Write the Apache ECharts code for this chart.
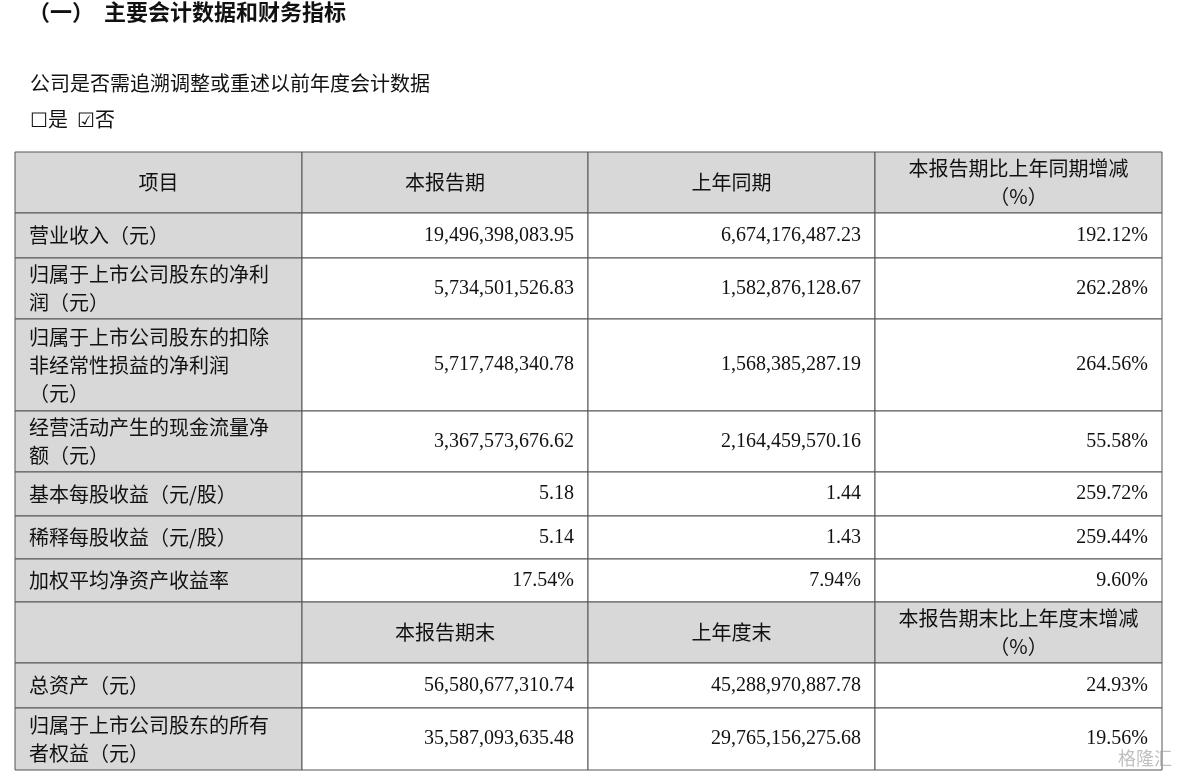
<!DOCTYPE html>
<html><head><meta charset="utf-8">
<script src="https://cdn.jsdelivr.net/npm/echarts@6/dist/echarts.min.js"></script>
<style>html,body{margin:0;padding:0;background:#fff}#c{width:1179px;height:774px}</style>
</head><body><div id="c"></div>
<script>
const items = ["营业收入（元）","归属于上市公司股东的净利\n润（元）","归属于上市公司股东的扣除\n非经常性损益的净利润\n（元）","经营活动产生的现金流量净\n额（元）","基本每股收益（元/股）","稀释每股收益（元/股）","加权平均净资产收益率","","总资产（元）","归属于上市公司股东的所有\n者权益（元）"];
const current = ["19,496,398,083.95","5,734,501,526.83","5,717,748,340.78","3,367,573,676.62","5.18","5.14","17.54%","本报告期末","56,580,677,310.74","35,587,093,635.48"];
const previous = ["6,674,176,487.23","1,582,876,128.67","1,568,385,287.19","2,164,459,570.16","1.44","1.43","7.94%","上年度末","45,288,970,887.78","29,765,156,275.68"];
const change = ["192.12%","262.28%","264.56%","55.58%","259.72%","259.44%","9.60%","本报告期末比上年度末增减\n（%）","24.93%","19.56%"];
const header = ["项目","本报告期","上年同期","本报告期比上年同期增减\n（%）"];

const colX = [15, 302, 588, 875, 1162];
const rowY = [152, 213, 258, 319, 411, 472, 516, 559, 602, 663, 708, 770];
const CJK = '"Noto Sans CJK SC", sans-serif';
const SERIF = '"Liberation Serif", "Noto Sans CJK SC", serif';
const els = [];
function cell(r, c, txt, gray, align) {
  const x0 = colX[c], x1 = colX[c+1], y0 = rowY[r], y1 = rowY[r+1];
  els.push({type:'rect', shape:{x:x0,y:y0,width:x1-x0,height:y1-y0}, style:{fill:gray?'#d8d8d8':'#fff', stroke:'#555', lineWidth:1}});
  if (!txt) return;
  let x = align==='left' ? x0+14 : align==='right' ? x1-14 : (x0+x1)/2;
  els.push({type:'text', x:x, y:(y0+y1)/2, style:{text:txt, font:'20px '+(align==='right'?SERIF:CJK), fill:'#111', align:align, verticalAlign:'middle', lineHeight:28}});
}
header.forEach((h,c)=>cell(0,c,h,true,c===0?'center':'center'));
for (let i=0;i<items.length;i++){
  const r=i+1, hdr = i===7;
  cell(r,0,items[i],true,'left');
  cell(r,1,current[i],hdr,hdr?'center':'right');
  cell(r,2,previous[i],hdr,hdr?'center':'right');
  cell(r,3,change[i],hdr,hdr?'center':'right');
}
els.push({type:'text',x:28,y:12,style:{text:'（一）  主要会计数据和财务指标',font:'bold 22px '+CJK,fill:'#111',verticalAlign:'middle'}});
els.push({type:'text',x:30,y:83,style:{text:'公司是否需追溯调整或重述以前年度会计数据',font:'20px '+CJK,fill:'#111',verticalAlign:'middle'}});
els.push({type:'text',x:30,y:119,style:{text:'☐是  ☑否',font:'20px '+CJK,fill:'#111',verticalAlign:'middle'}});
els.push({type:'text',x:1172,y:758,style:{text:'格隆汇',font:'18px '+CJK,fill:'rgba(150,150,150,0.6)',align:'right',verticalAlign:'middle'}});
const chart = echarts.init(document.getElementById('c'));
chart.setOption({animation:false, graphic:{elements:els}});
</script></body></html>
